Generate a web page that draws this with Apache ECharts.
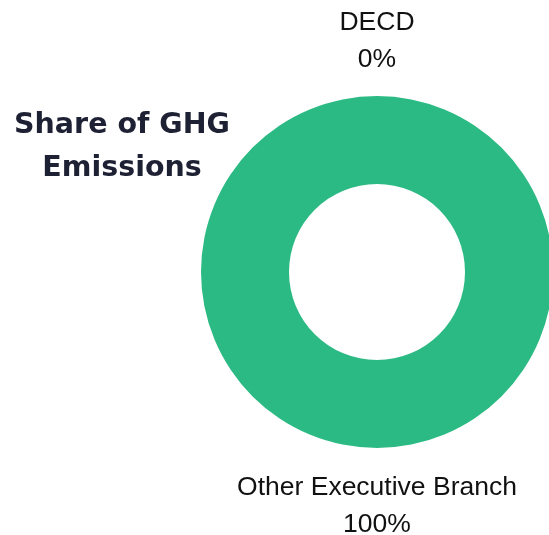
<!DOCTYPE html>
<html><head><meta charset="utf-8">
<script src="https://cdn.jsdelivr.net/npm/echarts@6/dist/echarts.min.js"></script>
<style>html,body{margin:0;padding:0;background:#fff}#c{width:549px;height:535px}</style>
</head><body><div id="c"></div>
<script>
const categories = ['DECD', 'Other Executive Branch'];
const values = [0, 100];
const titleText = 'Share of GHG\nEmissions';

const CX = 377, CY = 272, R_IN = 88, R_OUT = 176;
const chart = echarts.init(document.getElementById('c'), null, {renderer: 'canvas'});
chart.setOption({
  animation: false,
  title: {
    text: titleText,
    left: 122, top: 104, textAlign: 'center', padding: 0,
    textStyle: {fontFamily: 'DejaVu Sans', fontWeight: 'bold', fontSize: 28.5, lineHeight: 43, color: '#1e2133'}
  },
  series: [{
    type: 'pie',
    center: [CX, CY],
    radius: [R_IN, R_OUT],
    startAngle: 90,
    clockwise: true,
    silent: true,
    stillShowZeroSum: true,
    minAngle: 0,
    itemStyle: {color: '#2bba83'},
    label: {
      show: true, position: 'outside',
      formatter: p => p.name + '\n' + Math.round(p.percent) + '%',
      fontFamily: 'Liberation Sans', fontSize: 26.5, lineHeight: 37, color: '#111'
    },
    labelLine: {show: false},
    labelLayout: function (p) {
      const top = p.dataIndex === 0;
      return {x: CX, y: top ? CY - R_OUT - 18 : CY + R_OUT + 21,
              align: 'center', verticalAlign: top ? 'bottom' : 'top'};
    },
    data: categories.map((n, i) => ({name: n, value: values[i],
      itemStyle: i === 0 ? {borderColor: '#25a377', borderWidth: 1} : {}}))
  }]
});
</script></body></html>
